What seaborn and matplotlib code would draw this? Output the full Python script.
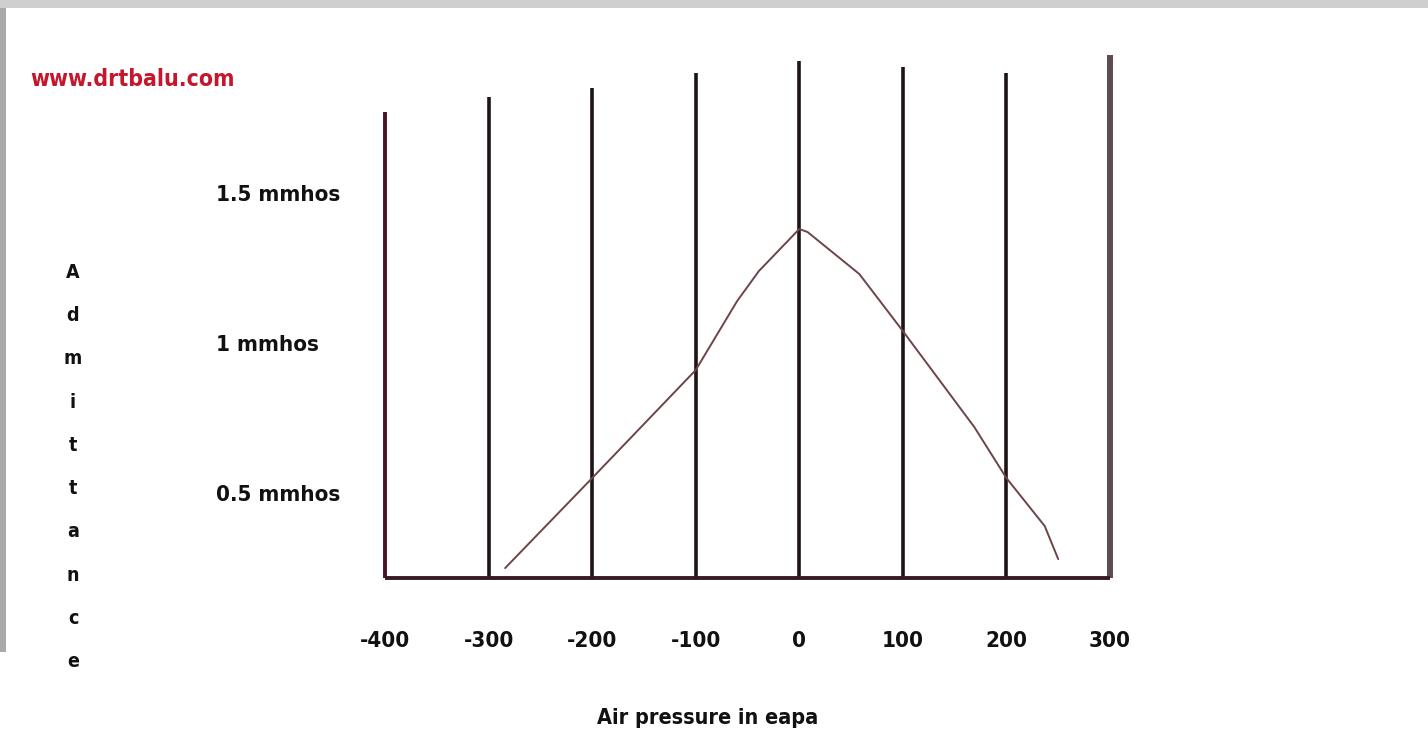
"""
Tympanogram sketch: admittance vs air pressure, redrawn with seaborn.
"""

import numpy as np
import pandas as pd
import matplotlib
matplotlib.use("Agg")
import matplotlib.pyplot as plt
from matplotlib.patches import Rectangle
import seaborn as sns

# Data
pressure_ticks = [-400, -300, -200, -100, 0, 100, 200, 300]
line_tops = [1.77, 1.82, 1.85, 1.90, 1.94, 1.92, 1.90, 1.96]  # top of each drawn vertical line
admittance_ticks = [1.5, 1.0, 0.5]
admittance_labels = ["1.5 mmhos", "1 mmhos", "0.5 mmhos"]

curve_pressure = [-284, -200, -100, -60, -39, 0, 8, 58, 100, 169, 200, 237, 250]
curve_admittance = [0.25, 0.55, 0.91, 1.14, 1.24, 1.38, 1.37, 1.23, 1.04, 0.72, 0.55, 0.39, 0.28]

y_floor = 0.217
y_ceiling = 1.97

sns.set_theme(style="white")
plt.rcParams["font.family"] = ["DejaVu Sans"]

# condensed bold, close to the squashed lettering of the original
cond = dict(fontstretch="condensed", fontweight="bold")

fig = plt.figure(figsize=(14.28, 7.35), dpi=100)
fig.patch.set_facecolor("white")

# slide frame remnants (grey strips top and left)
fig.patches.append(Rectangle((0, 1 - 8 / 735), 1, 8 / 735, transform=fig.transFigure,
                             facecolor="#cfcfcf", edgecolor="none", zorder=0))
fig.patches.append(Rectangle((0, 1 - 652 / 735), 6 / 1428, (652 - 8) / 735,
                             transform=fig.transFigure, facecolor="#a9a9a9",
                             edgecolor="none", zorder=0))

ax = fig.add_axes([385 / 1428, 157 / 735, 725 / 1428, 526 / 735])
ax.set_facecolor("none")

# vertical lines at each pressure tick
for i, (p, top) in enumerate(zip(pressure_ticks, line_tops)):
    if i == 0:
        col, lw = "#4a1424", 2.8
    elif i == len(pressure_ticks) - 1:
        col, lw = "#5e4c55", 4.3
    else:
        col, lw = "#1e1416", 2.6
    ax.vlines(p, y_floor, top, colors=col, linewidth=lw, clip_on=False, zorder=2)

# baseline
ax.hlines(y_floor, pressure_ticks[0], pressure_ticks[-1], colors="#3a1a22",
          linewidth=2.8, clip_on=False, zorder=3)

df = pd.DataFrame({"pressure": curve_pressure, "admittance": curve_admittance})
sns.lineplot(data=df, x="pressure", y="admittance", ax=ax, color="#6e4446",
             linewidth=1.4, sort=False, zorder=4)

ax.set_xlim(pressure_ticks[0], pressure_ticks[-1])
ax.set_ylim(y_floor, y_ceiling)
for s in ax.spines.values():
    s.set_visible(False)

ax.set_xticks(pressure_ticks)
ax.set_xticklabels([str(t) for t in pressure_ticks], fontsize=16, color="#111111", **cond)
ax.tick_params(axis="x", length=0, pad=38)

ax.set_yticks(admittance_ticks)
ax.set_yticklabels(admittance_labels, fontsize=16, color="#111111", **cond)
for lab in ax.get_yticklabels():
    lab.set_horizontalalignment("left")
ax.tick_params(axis="y", length=0, pad=122)

ax.set_xlabel("")
ax.set_ylabel("")

# labels
fig.text(708 / 1428, 1 - 718 / 735, "Air pressure in eapa", ha="center", va="center",
         fontsize=15.5, color="#111111", **cond)
fig.text(73 / 1428, 1 - 467 / 735, "\n".join("Admittance"), ha="center", va="center",
         fontsize=14, color="#111111", linespacing=2.62, **cond)
fig.text(30 / 1428, 1 - 80 / 735, "www.drtbalu.com", ha="left", va="center",
         fontsize=16.5, color="#c4162c", **cond)

fig.savefig("out.png", dpi=100)
